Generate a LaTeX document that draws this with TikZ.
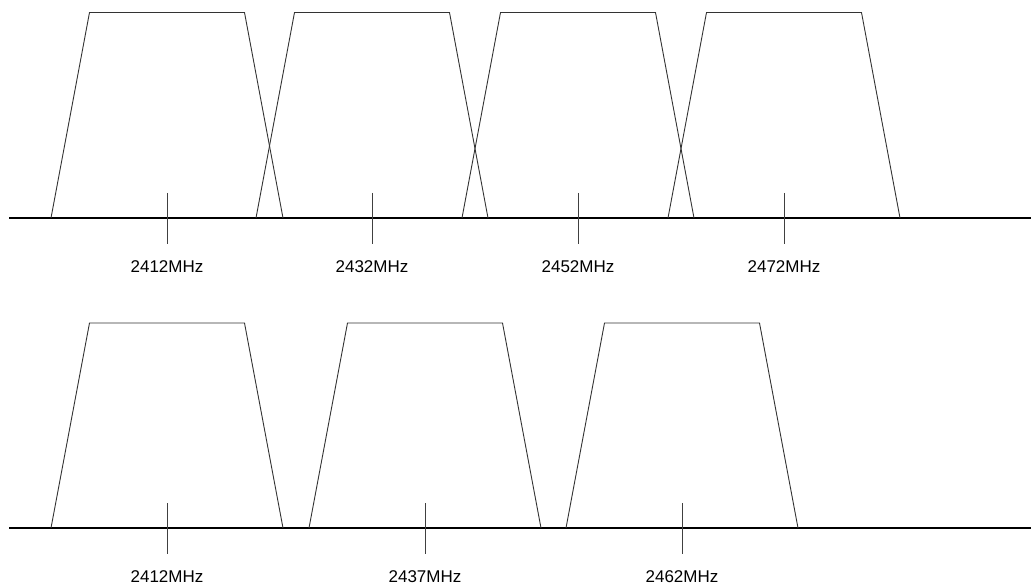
\documentclass[tikz,border=0pt]{standalone}
\usepackage{fontspec}
\setmainfont{Liberation Sans}
\usetikzlibrary{positioning}
\tikzset{axis/.style={line width=1.8pt,line cap=rect},
 band/.style={line width=.9pt,draw=black!80},
 tickmark/.style={line width=.9pt,draw=black!75},
 freq/.style={font=\fontsize{17}{20}\selectfont,inner sep=0pt}}

\begin{document}
\begin{tikzpicture}[x=1pt,y=-1pt]
\useasboundingbox (0,0) rectangle (1031,585);
% 20 MHz spacing, overlapping channels
\coordinate (ua) at (10,218);\coordinate (ub) at (1031,218);
\draw[axis] (ua)--(ub);
\foreach \c/\f in {167/2412,372/2432,578/2452,784/2472}{
 \draw[band] (\c-116,218)--(\c-77.5,12.5)--(\c+77.5,12.5)--(\c+116,218);
 \coordinate (ut\f) at (\c,193);\coordinate (ub\f) at (\c,244);
 \draw[tickmark] (ut\f)--(ub\f);
 \node[freq,below=16pt of ub\f] (ul\f) {\f MHz};}
% 25 MHz spacing, non overlapping channels
\coordinate (la) at (10,528);\coordinate (lb) at (1031,528);
\draw[axis] (la)--(lb);
\foreach \c/\f in {167/2412,425/2437,682/2462}{
 \draw[band] (\c-116,528)--(\c-77.5,323)--(\c+77.5,323)--(\c+116,528);
 \coordinate (lt\f) at (\c,503);\coordinate (lb\f) at (\c,554);
 \draw[tickmark] (lt\f)--(lb\f);
 \node[freq,below=16pt of lb\f] (ll\f) {\f MHz};}
\end{tikzpicture}
\end{document}
